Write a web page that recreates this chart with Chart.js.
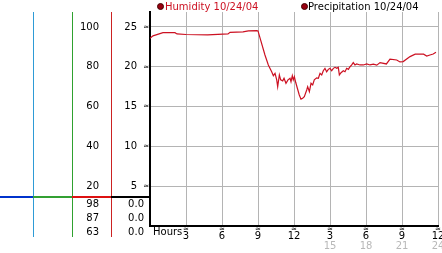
<!DOCTYPE html>
<html>
<head>
<meta charset="utf-8">
<script src="https://cdn.jsdelivr.net/npm/chart.js@4.4.0/dist/chart.umd.min.js"></script>
<style>
  html, body { margin: 0; padding: 0; background: #fff; }
  #wrap { width: 442px; height: 253px; position: relative; }
</style>
</head>
<body>
<div id="wrap"><canvas id="chart"></canvas></div>
<script>
// humidity readings for 10/24/04, hours since midnight
const hours = [0, 0.25, 1.08, 2.08, 2.25, 3, 4.8, 6.5, 6.67, 7.75, 8.2, 8.9, 9,
    9.58, 9.86, 10.14, 10.28, 10.42, 10.56, 10.64, 10.78, 10.89, 11.06, 11.17, 11.33,
    11.5, 11.67, 11.75, 11.86, 11.94, 12.03, 12.14, 12.28, 12.44, 12.58, 12.72, 12.86,
    13.06, 13.14, 13.28, 13.42, 13.56, 13.69, 13.89, 14.03, 14.17, 14.31, 14.44, 14.58,
    14.72, 14.86, 15.0, 15.14, 15.28, 15.42, 15.56, 15.69, 15.78, 15.92, 16.11, 16.25,
    16.39, 16.53, 16.67, 16.81, 16.94, 17.08, 17.22, 17.5, 17.78, 18.06, 18.33, 18.61,
    18.9, 19.17, 19.7, 20, 20.56, 20.83, 21.1, 21.67, 22.1, 22.8, 23.06, 23.33, 23.6, 23.83];
const humidity = [94.3, 95.5, 97.1, 97.1, 96.5, 96.2, 96.0, 96.5, 97.3, 97.5, 98, 98.1, 98,
    85.9, 80.9, 77.5, 75.5, 76.7, 73.4, 70.0, 75.9, 73.4, 72.9, 74.2, 71.7,
    73.4, 74.2, 72.5, 75.5, 73.4, 75.0, 72.2, 69.2, 65.8, 63.7, 64.2, 65.0,
    68.3, 70.0, 67.5, 71.7, 70.9, 73.4, 74.4, 74.2, 76.7, 75.9, 78.0, 79.2,
    77.5, 78.7, 79.2, 78.0, 79.2, 79.7, 79.2, 79.7, 75.9, 77.0, 78.0, 77.5,
    79.2, 78.7, 80.0, 80.9, 82.1, 80.9, 81.4, 80.9, 80.9, 81.4, 80.9, 81.3,
    80.8, 82.1, 81.4, 83.8, 83.4, 82.4, 82.6, 85.1, 86.3, 86.3, 85.4, 85.9, 86.4, 87.3];
const precipHours = [0, 24];
const precipitation = [0.0, 0.0];

const humidityTicks = [20, 40, 60, 80, 100];
const precipTicks = [5, 10, 15, 20, 25];
const hourTicks = [3, 6, 9, 12, 15, 18, 21, 24];
const hourLabels = ['3', '6', '9', '12', '3', '6', '9', '12'];
const hourLabels24 = ['', '', '', '', '15', '18', '21', '24'];
const humidityStats = ['98', '87', '63'];
const precipStats = ['0.0', '0.0', '0.0'];

const FONT = '10px "DejaVu Sans"';

const decor = {
    id: 'decor',
    afterDraw(chart) {
        const ctx = chart.ctx;
        const x = chart.scales.x, y = chart.scales.y;
        const area = chart.chartArea;
        ctx.save();

        // legend
        ctx.font = FONT;
        ctx.textBaseline = 'middle';
        ctx.fillStyle = '#990011';
        ctx.strokeStyle = '#440000';
        ctx.lineWidth = 1;
        [[160.5, 6.5], [304.5, 6.5]].forEach(p => {
            ctx.beginPath();
            ctx.arc(p[0], p[1], 3, 0, Math.PI * 2);
            ctx.fill();
            ctx.stroke();
        });
        ctx.textAlign = 'left';
        ctx.fillStyle = '#cc1122';
        ctx.fillText('Humidity 10/24/04', 165, 7);
        ctx.fillStyle = '#000';
        ctx.fillText('Precipitation 10/24/04', 308, 7);

        // column lines on the left
        const cols = [[33.5, '#2e9bd6'], [72.5, '#2fa12f'], [111.5, '#cc2222']];
        ctx.lineWidth = 1;
        cols.forEach(c => {
            ctx.strokeStyle = c[1];
            ctx.beginPath();
            ctx.moveTo(c[0], area.top);
            ctx.lineTo(c[0], 237);
            ctx.stroke();
        });
        // separator row
        const sepY = 197;
        const segs = [[0, 33, '#0033cc'], [33, 72, '#33a033'], [72, 111, '#dd1111'], [111, area.left, '#000']];
        ctx.lineWidth = 2;
        segs.forEach(s => {
            ctx.strokeStyle = s[2];
            ctx.beginPath();
            ctx.moveTo(s[0], sepY);
            ctx.lineTo(s[1], sepY);
            ctx.stroke();
        });

        // y labels
        ctx.fillStyle = '#000';
        ctx.textAlign = 'right';
        humidityTicks.forEach((v, i) => {
            const py = y.getPixelForValue(v);
            ctx.fillText(String(v), 99, py);
            ctx.fillText(String(precipTicks[i]), 137, py);
            ctx.font = '7px "DejaVu Sans"';
            ctx.fillText('\u2248', 149, py);
            ctx.font = FONT;
        });
        humidityStats.forEach((s, i) => {
            const py = 204 + i * 14;
            ctx.fillText(s, 99, py);
            ctx.fillText(precipStats[i], 144, py);
        });

        // x labels
        ctx.textAlign = 'left';
        ctx.fillText('Hours', 153, 232);
        ctx.textAlign = 'center';
        hourTicks.forEach((h, i) => {
            const px = x.getPixelForValue(h);
            ctx.font = '7px "DejaVu Sans"';
            ctx.fillText('\u2248', px, 229);
            ctx.font = FONT;
            ctx.fillStyle = '#000';
            ctx.fillText(hourLabels[i], px, 236);
            if (hourLabels24[i]) {
                ctx.fillStyle = '#b8b8b8';
                ctx.fillText(hourLabels24[i], px, 246);
            }
            ctx.fillStyle = '#000';
        });
        ctx.restore();
    }
};

new Chart(document.getElementById('chart'), {
    type: 'line',
    data: {
        datasets: [
            {
                label: 'Humidity 10/24/04',
                data: hours.map((h, i) => ({ x: h, y: humidity[i] })),
                borderColor: '#cc1122',
                borderWidth: 1.2,
                pointRadius: 0,
                tension: 0,
                fill: false
            },
            {
                label: 'Precipitation 10/24/04',
                data: precipHours.map((h, i) => ({ x: h, y: precipitation[i] * 4 })),
                borderColor: '#000',
                borderWidth: 2,
                pointRadius: 0,
                fill: false
            }
        ]
    },
    options: {
        responsive: true,
        maintainAspectRatio: false,
        animation: false,
        layout: { padding: { left: 150, right: 4, top: 12, bottom: 27 } },
        plugins: { legend: { display: false }, tooltip: { enabled: false } },
        scales: {
            x: {
                type: 'linear',
                min: 0,
                max: 24,
                afterBuildTicks: s => { s.ticks = hourTicks.map(v => ({ value: v })); },
                ticks: { display: false },
                grid: { color: '#b4b4b4', drawTicks: false },
                border: { color: '#000', width: 2 }
            },
            y: {
                min: 0,
                max: 107.5,
                afterBuildTicks: s => { s.ticks = humidityTicks.map(v => ({ value: v })); },
                ticks: { display: false },
                grid: { color: '#b4b4b4', drawTicks: false },
                border: { color: '#000', width: 2 }
            }
        }
    },
    plugins: [decor]
});
</script>
</body>
</html>
